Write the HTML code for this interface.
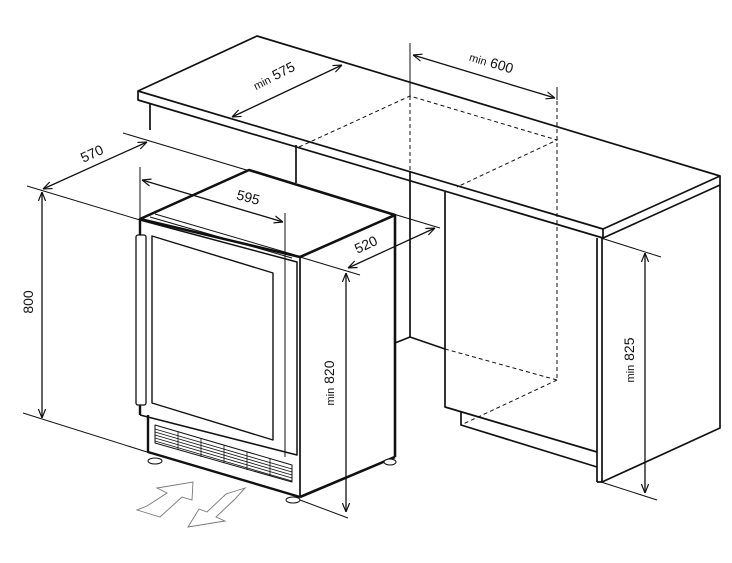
<!DOCTYPE html>
<html><head><meta charset="utf-8"><style>
html,body{margin:0;padding:0;background:#fff}
svg{display:block}
text{font-family:"Liberation Sans",sans-serif;font-size:14px;fill:#111}
</style></head><body>
<svg width="732" height="563" viewBox="0 0 732 563" xmlns="http://www.w3.org/2000/svg">
<defs>
<marker id="a" viewBox="0 0 10 10" refX="10" refY="5" markerWidth="9" markerHeight="9" orient="auto-start-reverse" markerUnits="userSpaceOnUse">
<path d="M0,1 L10,5 L0,9" fill="none" stroke="#111" stroke-width="1.3"/></marker>
</defs>
<g fill="none" stroke="#111" stroke-width="1.7" stroke-linejoin="round">
<polygon points="257,36 138,91 603,229 720,176" fill="#fff"/>
<polyline points="138,91 138,100 603,238 720,185 720,176"/>
<line x1="603" y1="229" x2="603" y2="238"/>
<line x1="150" y1="104" x2="150" y2="130"/>
<line x1="296" y1="145" x2="296" y2="183"/>
<line x1="410" y1="172" x2="410" y2="337"/>
<line x1="410" y1="337" x2="395" y2="343"/>
<line x1="410" y1="337" x2="445" y2="349"/>
<polyline points="445,192 445,407 597,452"/>
<polyline points="461,412 461,425 597,467"/>
<line x1="597" y1="238" x2="597" y2="482"/>
<line x1="602" y1="238" x2="602" y2="482"/>
<polyline points="720,185 720,428 602,482 597,482"/>
</g>
<g fill="none" stroke="#111" stroke-width="1" stroke-dasharray="4,3">
<polyline points="299,147 410,96 557,140 457,187"/>
<line x1="410" y1="96" x2="410" y2="172"/>
<line x1="557" y1="87" x2="557" y2="380"/>
<line x1="445" y1="349" x2="557" y2="380"/>
<line x1="557" y1="380" x2="461" y2="425"/>
</g>
<g fill="none" stroke="#111" stroke-width="1">
<line x1="410" y1="43" x2="410" y2="96"/>
<line x1="557" y1="87" x2="557" y2="100"/>
<line x1="413" y1="55" x2="555" y2="98" marker-start="url(#a)" marker-end="url(#a)" stroke-width="1.3"/>
<line x1="232" y1="117" x2="342" y2="65" marker-start="url(#a)" marker-end="url(#a)" stroke-width="1.3"/>
<line x1="601" y1="238" x2="661" y2="257"/>
<line x1="601" y1="482" x2="657" y2="500"/>
<line x1="645" y1="253" x2="645" y2="493" marker-start="url(#a)" marker-end="url(#a)" stroke-width="1.3"/>
<line x1="123" y1="133" x2="440" y2="228"/>
<line x1="43" y1="189" x2="147" y2="142" marker-start="url(#a)" marker-end="url(#a)" stroke-width="1.3"/>
<line x1="27" y1="186" x2="140" y2="220"/>
<line x1="23" y1="413" x2="147" y2="452"/>
<line x1="42" y1="192" x2="42" y2="418" marker-start="url(#a)" marker-end="url(#a)" stroke-width="1.3"/>
<line x1="300" y1="257" x2="360" y2="275"/>
<line x1="348" y1="268" x2="435" y2="228" marker-start="url(#a)" marker-end="url(#a)" stroke-width="1.3"/>
<line x1="300" y1="500" x2="348" y2="518"/>
<line x1="346" y1="273" x2="346" y2="512" marker-start="url(#a)" marker-end="url(#a)" stroke-width="1.3"/>
</g>
<g fill="none" stroke="#111" stroke-linejoin="round">
<polygon points="140,219 249,170 395,215 300,257" fill="#fff" stroke-width="2.6"/>
<line x1="300" y1="257" x2="300" y2="497" stroke-width="1.7"/>
<line x1="395" y1="215" x2="395" y2="457" stroke-width="2.6"/>
<line x1="300" y1="497" x2="395" y2="457" stroke-width="2.6"/>
<line x1="140" y1="219" x2="140" y2="415" stroke-width="2.4"/>
<polyline points="140,220 297,262 297,455 140,415" stroke-width="1.5"/>
<line x1="155" y1="214" x2="295" y2="255" stroke-width="1"/>
<line x1="150" y1="217" x2="292" y2="258" stroke-width="1"/>
<line x1="285" y1="262" x2="285" y2="457" stroke-width="1"/>
<polygon points="152,236 273,273 273,440 152,403" stroke-width="1.4"/>
<rect x="136" y="235" width="10" height="170" rx="2" stroke-width="1.3" fill="#fff"/>
<polyline points="148,415 148,452 300,497" stroke-width="2.4"/>
<polygon points="155,425 292,465 292,482 155,443" stroke-width="1"/>
<g stroke-width="0.8">
<line x1="155" y1="429" x2="292" y2="469"/><line x1="155" y1="432" x2="292" y2="472"/>
<line x1="155" y1="435" x2="292" y2="475"/><line x1="155" y1="438" x2="292" y2="478"/>
<line x1="155" y1="441" x2="292" y2="481"/>
<line x1="178" y1="432" x2="178" y2="450"/><line x1="201" y1="438" x2="201" y2="457"/>
<line x1="224" y1="445" x2="224" y2="463"/><line x1="247" y1="452" x2="247" y2="470"/>
<line x1="270" y1="458" x2="270" y2="476"/>
</g>
<g stroke-width="1" fill="#fff">
<ellipse cx="155" cy="461" rx="7" ry="3"/><ellipse cx="293" cy="500" rx="7" ry="3"/><ellipse cx="390" cy="462" rx="6" ry="3"/>
</g>
</g>
<g fill="none" stroke="#111" stroke-width="1">
<line x1="140" y1="167" x2="140" y2="219"/>
<line x1="285" y1="213" x2="285" y2="262"/>
<line x1="142" y1="180" x2="283" y2="222" marker-start="url(#a)" marker-end="url(#a)" stroke-width="1.3"/>
</g>
<g fill="none" stroke="#777" stroke-width="0.9">
<polygon points="137,510 160,517 182,497 192,500 193,482 157,488 167,493 147,506"/>
<polygon points="245,488 226,494 207,512 199,509 188,527 225,521 216,517 234,500"/>
</g>
<text transform="translate(490,67) rotate(17)" text-anchor="middle"><tspan font-size="11">min</tspan> 600</text>
<text transform="translate(276,80) rotate(-27)" text-anchor="middle"><tspan font-size="11">min</tspan> 575</text>
<text transform="translate(634,360) rotate(-90)" text-anchor="middle"><tspan font-size="11">min</tspan> 825</text>
<text transform="translate(94,158) rotate(-25)" text-anchor="middle">570</text>
<text transform="translate(33,302) rotate(-90)" text-anchor="middle">800</text>
<text transform="translate(247,202) rotate(15)" text-anchor="middle">595</text>
<text transform="translate(368,249) rotate(-25)" text-anchor="middle">520</text>
<text transform="translate(334,383) rotate(-90)" text-anchor="middle"><tspan font-size="11">min</tspan> 820</text>
</svg>
</body></html>
